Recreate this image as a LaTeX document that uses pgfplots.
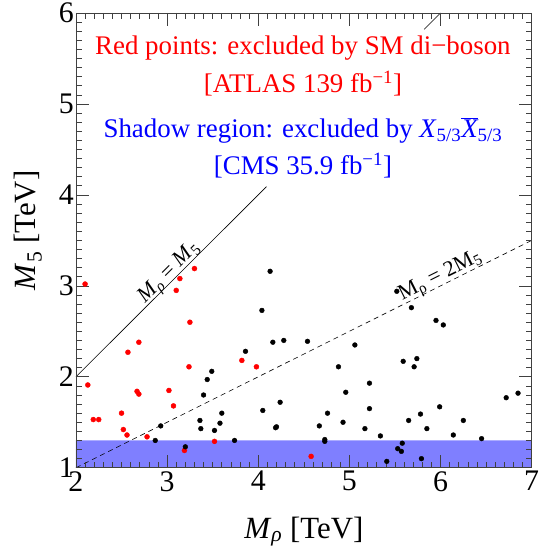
\documentclass[border=0pt]{standalone}
\usepackage{fontspec}
\setmainfont{Liberation Serif}
\usepackage{pgfplots}
\pgfplotsset{compat=1.18}
\begin{document}
\begin{tikzpicture}
\begin{axis}[
  scale only axis, width=456bp, height=455bp,
  xmin=2, xmax=7, ymin=1, ymax=6,
  xtick={2,3,4,5,6,7}, ytick={1,2,3,4,5,6},
  minor x tick num=9, minor y tick num=9,
  major tick length=13bp, minor tick length=6bp,
  tick align=inside,
  axis line style={black!75, line width=0.8bp},
  every tick/.style={black!75, line width=0.6bp},
  /pgf/number format/assume math mode=true,
  ticklabel style={font=\fontsize{30}{30}\selectfont},
  yticklabel style={inner xsep=2bp},
  xlabel={\textit{M}\textsubscript{\textit{ρ}} [TeV]},
  ylabel={\textit{M}\textsubscript{5} [TeV]},
  label style={font=\fontsize{31}{31}\selectfont},
  xlabel style={at={(axis description cs:0.5,-0.1545)}, anchor=base},
  ylabel style={at={(axis description cs:-0.105,0.522)}, anchor=center},
  axis on top,
]
% red points
\addplot[only marks, mark=*, mark size=2.5bp, color=red] coordinates {
(2.10,3.02)(2.13,1.91)(2.19,1.53)(2.25,1.53)(2.50,1.60)(2.52,1.42)(2.56,1.36)(2.57,2.27)
(2.67,1.84)(2.69,1.81)(2.69,2.38)(2.78,1.34)(3.02,1.85)(3.07,1.68)(3.10,2.95)(3.14,3.08)
(3.24,2.11)(3.25,2.60)(3.30,3.19)(3.82,2.18)(3.98,2.11)(3.19,1.19)(3.52,1.29)(4.58,1.125)};
% black points
\addplot[only marks, mark=*, mark size=2.4bp, color=black] coordinates {
(2.93,1.46)(2.87,1.30)(3.20,1.23)(3.36,1.52)(3.37,1.43)(3.40,1.80)(3.44,1.97)(3.49,2.06)
(3.52,1.41)(3.58,1.49)(3.60,1.60)(3.74,1.30)(3.86,2.28)(4.04,2.73)(4.05,1.63)(4.13,3.16)
(4.16,2.38)(4.28,2.40)(4.54,2.39)(5.06,2.35)(5.52,2.94)(5.68,2.76)(5.95,2.62)(6.03,2.57)
(4.88,2.11)(5.59,2.17)(5.74,2.20)(5.71,2.11)(5.22,1.93)(4.96,1.83)(4.24,1.72)(5.22,1.65)
(4.76,1.60)(5.99,1.67)(5.78,1.59)(4.19,1.44)(4.20,1.45)(4.67,1.46)(4.93,1.50)(5.17,1.43)
(5.65,1.52)(5.85,1.43)(6.25,1.52)(5.34,1.35)(6.14,1.36)(6.45,1.32)(6.72,1.77)(6.85,1.82)
(4.73,1.31)(4.73,1.29)(5.58,1.27)(5.53,1.21)(5.57,1.18)(5.41,1.07)(5.79,1.10)};
% shaded region
\addplot[draw=none, fill=blue, fill opacity=0.5] coordinates {(2,1)(7,1)(7,1.3)(2,1.3)(2,1)};
% lines
\addplot[black, line width=0.6bp] coordinates {(2,2)(4.09,4.09)};
\addplot[black, line width=0.6bp] coordinates {(5.82,5.82)(6,6)};
\addplot[black, line width=0.6bp, dash pattern=on 5bp off 4bp] coordinates {(2,1)(7,3.5)};
% line labels
\node[rotate=45, font=\fontsize{22}{22}\selectfont, anchor=center] at (axis cs:3.03,3.14)
  {\textit{M}\textsubscript{\textit{ρ}} = \textit{M}\textsubscript{5}};
\node[rotate=26.5, font=\fontsize{22}{22}\selectfont, anchor=center] at (axis cs:6.0,3.1)
  {M\textsubscript{ρ} = 2M\textsubscript{5}};
% annotations
\node[red, anchor=base, font=\fontsize{27}{27}\selectfont] at (axis cs:4.49,5.54)
  {Red points: excluded by SM di−boson};
\node[red, anchor=base, font=\fontsize{27}{27}\selectfont] at (axis cs:4.49,5.13)
  {[ATLAS 139 fb\textsuperscript{−1}]};
\node[blue, anchor=base, font=\fontsize{27}{27}\selectfont] at (axis cs:4.49,4.63)
  {Shadow region: excluded by \textit{X}\textsubscript{5/3}$\overline{\hbox{\itshape X}}$\textsubscript{5/3}};
\node[blue, anchor=base, font=\fontsize{27}{27}\selectfont] at (axis cs:4.49,4.22)
  {[CMS 35.9 fb\textsuperscript{−1}]};
\end{axis}
\pgfresetboundingbox
\path[use as bounding box] ([shift={(-76bp,-82.3bp)}]current axis.south west) rectangle ([shift={(7bp,13bp)}]current axis.north east);
\end{tikzpicture}
\end{document}
